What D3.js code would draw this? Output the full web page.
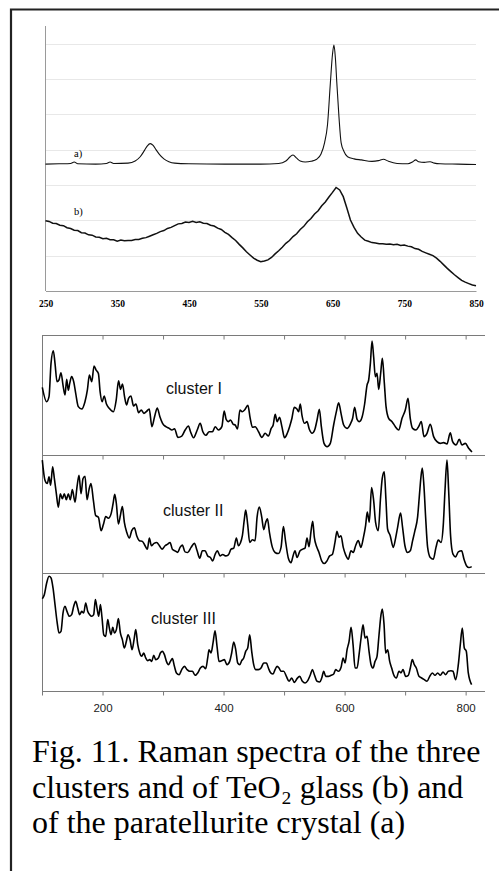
<!DOCTYPE html>
<html><head><meta charset="utf-8">
<script src="https://cdn.jsdelivr.net/npm/d3@7/dist/d3.min.js"></script>
<style>body{margin:0;background:#fff}svg{display:block}</style>
</head><body>
<script>
// ---------- top panel: paratellurite crystal (a) and TeO2 glass (b) ----------
const topTicks = [250, 350, 450, 550, 650, 750, 850];
const topGrid = [1, 2, 3, 4, 5, 6, 7];
const seriesA = [[250,3.59],[270,3.60],[285,3.61],[290,3.65],[295,3.60],[320,3.59],[335,3.61],[340,3.65],[345,3.61],[365,3.62],[375,3.68],[382,3.80],[388,3.98],[392,4.11],[396,4.17],[400,4.12],[404,4.00],[409,3.86],[415,3.74],[422,3.66],[430,3.62],[450,3.60],[500,3.59],[550,3.59],[575,3.61],[585,3.68],[591,3.80],[595,3.85],[600,3.76],[605,3.68],[612,3.65],[620,3.67],[628,3.73],[634,3.88],[639,4.20],[643,4.70],[647,5.88],[650,6.70],[652,6.96],[654,6.60],[656,5.90],[659,4.93],[662,4.20],[666,3.95],[671,3.80],[680,3.74],[690,3.71],[705,3.67],[714,3.69],[721,3.73],[728,3.67],[740,3.61],[755,3.60],[762,3.66],[766,3.71],[770,3.66],[778,3.64],[786,3.66],[792,3.62],[800,3.60],[825,3.59],[850,3.58]];
const seriesBx = [250,255,260,265,270,275,280,285,290,295,300,305,310,315,320,325,330,335,340,345,350,355,360,365,370,375,380,385,390,395,400,405,410,415,420,425,430,435,440,445,450,455,460,465,470,475,480,485,490,495,500,505,510,515,520,525,530,535,540,545,550,555,560,565,570,575,580,585,590,595,600,605,610,615,620,625,630,635,640,645,650,655,660,665,670,675,680,685,690,695,700,705,710,715,720,725,730,735,740,745,750,755,760,765,770,775,780,785,790,795,800,805,810,815,820,825,830,835,840,845,850];
const seriesBy = [1.99,1.97,1.92,1.91,1.86,1.85,1.79,1.77,1.72,1.71,1.65,1.64,1.59,1.58,1.53,1.52,1.48,1.49,1.45,1.45,1.41,1.44,1.42,1.43,1.43,1.46,1.46,1.49,1.51,1.55,1.59,1.63,1.68,1.71,1.77,1.80,1.85,1.90,1.91,1.95,1.94,1.97,1.94,1.96,1.92,1.91,1.86,1.84,1.78,1.74,1.66,1.60,1.51,1.43,1.32,1.22,1.11,1.02,0.93,0.87,0.83,0.85,0.88,0.95,1.05,1.14,1.24,1.35,1.43,1.54,1.62,1.74,1.83,1.96,2.05,2.18,2.27,2.41,2.52,2.66,2.79,2.93,2.86,2.67,2.35,2.01,1.80,1.63,1.53,1.44,1.41,1.37,1.36,1.34,1.34,1.32,1.33,1.31,1.32,1.29,1.30,1.27,1.25,1.20,1.18,1.12,1.08,1.04,1.00,0.93,0.84,0.74,0.64,0.55,0.46,0.38,0.30,0.25,0.21,0.17,0.15];
const topLabels = ["a)", "b)"];

// ---------- bottom panels: clusters ----------
const clusterNames = ["cluster I", "cluster II", "cluster III"];
const bottomTicks = [100, 200, 300, 400, 500, 600, 700, 800];
const cluster1 = [[100.5,56.4],[107.7,44.4],[111.6,48.6],[114.9,76.4],[118.7,86.9],[121.5,76.4],[124.8,61.1],[128,62.5],[131.4,68.6],[134.7,58.3],[138,50],[140.8,63],[143.5,54],[145.8,59.7],[149,65.3],[152.4,61],[155.7,51.4],[160,40.3],[165.6,38.3],[171,44.4],[175,54.2],[178.3,66.7],[182.2,61.1],[186,74.2],[189.4,70.8],[193.2,68],[196,52.8],[199.4,44.4],[202.7,49.2],[206.5,42.5],[211,38.9],[218,36.1],[222.6,45.8],[226.5,61.9],[229.8,54.7],[233,59.2],[236.4,48.6],[239.7,41.7],[243,47.2],[246.9,49.2],[251.3,40.8],[255.2,42.5],[259.6,35.3],[264,37.5],[268.4,34.7],[272.8,36.4],[277.2,38.3],[281.6,23.6],[286,31.9],[290.4,39.2],[294.8,31.9],[299.2,26.4],[304.7,23.6],[310.2,22.2],[314.6,20.8],[319,21.9],[324.5,14.7],[331,15.8],[336.5,20.8],[342,24.2],[345.4,19.4],[350.4,14.4],[356.5,20.8],[361.4,26.4],[365.8,19.4],[370.8,16.4],[376.2,19.4],[381.7,19.4],[386.2,23.6],[391.6,20.8],[397.2,23.6],[401,36.7],[404.3,29.7],[408.2,27.8],[411.5,29.2],[415.9,25.6],[419.2,25],[423.1,21.7],[427,37.5],[430.8,36.1],[434.7,37.5],[440.2,41.4],[444,30.6],[447.8,23.1],[452.3,23.6],[457.8,19.4],[463.3,14.7],[468.7,18.1],[474.2,15.8],[478.7,22.2],[482,25],[485.3,33.9],[488.6,27.8],[492.5,31.4],[496.4,23.6],[500.8,14.4],[505.3,18.1],[509.1,23.6],[513,30.6],[516.8,39.7],[521.2,38.3],[524,36.1],[526.8,42.5],[529.5,33.3],[534,26.4],[537.9,27.8],[541.7,21.4],[546.2,18.1],[550.5,20.8],[554.5,29.2],[558.3,38.1],[561.6,23.6],[566,9.7],[571,6.9],[576.4,9.7],[581.9,25],[586.4,36.1],[590.2,43.6],[594.1,34.7],[598.5,25],[604,22.2],[609.5,25.8],[613.3,30.6],[616.6,39.7],[620.6,29.7],[624.4,27.8],[628.8,31.4],[633.1,42.5],[637.1,58.3],[639.8,62.5],[642.6,76.4],[645.4,95],[648,81.9],[650.8,65.3],[653.6,68.1],[656.3,54.7],[659.6,68.1],[662.4,80.6],[665.7,59.7],[668.5,40.3],[672.8,30.6],[678.4,27.8],[683.9,23.6],[689.3,20.8],[694.9,30.6],[700.3,37.5],[704.8,47.2],[708.5,30.6],[712.4,22.2],[718,20.8],[722.3,23.6],[726.7,27.8],[731.2,15.3],[736.2,18.1],[741.6,25.6],[747.1,15.3],[752.7,11.1],[758.1,9.7],[763.6,10.3],[769.2,9.2],[774.6,18.6],[778.5,11.1],[784.1,8.3],[789.5,13.1],[794,8.3],[799.5,9.7],[805,5.6],[810.5,2.5]];
const cluster2 = [[100.5,95.7],[104.9,78.6],[108.8,75.8],[111.6,81.5],[114.3,74.4],[117.6,90],[120.4,80.1],[123.7,67.2],[127,55.8],[130.3,67.2],[133.6,63],[136.9,67.2],[140.2,62.1],[143.5,67.2],[146.8,62.1],[150.1,70.7],[154.6,60.1],[157.9,73.2],[161.2,82.9],[164.5,67.2],[167.8,80.1],[171.1,82],[174.4,62.1],[177.7,70.7],[181,75.8],[184.9,61.5],[188.7,48.7],[193.2,47.3],[197.6,35.9],[201.4,41],[205.3,47.9],[209.7,46.4],[214.1,50.1],[217.4,58.7],[220.2,66.7],[222.9,58.7],[226.2,41.6],[229.5,48.7],[232.8,56.4],[236.1,43],[240,34.5],[244.4,29.6],[248.3,35.9],[252.7,38.2],[256.5,31.6],[260.9,27.4],[265.9,26.8],[270.3,23.1],[274.1,20.2],[277.4,29.6],[280.7,23.1],[285.1,25.1],[289.5,25.9],[294,23.1],[298.4,20.2],[303.3,23.1],[307.7,24.5],[311.6,25.9],[315.4,20.2],[319.8,18.8],[324.2,17.4],[328.1,21.7],[331.9,23.6],[336.3,17.9],[340.8,17.4],[346.3,21.7],[351.8,25.1],[356.2,19.1],[360.6,12.5],[365,18.8],[369.4,18.8],[373.8,14.5],[378.3,13.1],[382.1,10.3],[386,15.7],[389.8,18.8],[394.2,14.5],[398.7,15.7],[403.1,14.5],[408,15.4],[412.4,20.2],[416.8,21.1],[421.2,29.6],[424.5,23.1],[427.8,25.4],[431.1,31.6],[434.4,45.9],[436.6,53.3],[439.9,41],[443.2,25.9],[447.6,28.2],[452.1,27.4],[455.4,47.3],[459.2,55.8],[463.1,47.3],[466.4,36.8],[469.7,43],[472.5,45.9],[475.8,34.5],[480.7,21.7],[485.1,17.4],[490.6,16.5],[495,21.7],[498.9,39.3],[502.7,25.9],[507.1,12.5],[511.5,8.8],[514.8,14.5],[518.1,18.8],[521.4,13.1],[526.4,18.8],[530.8,20.2],[534.6,21.1],[537.9,29.6],[541.2,22.2],[544.5,35.3],[547.3,43.9],[550,30.2],[553.9,22.2],[557.7,17.4],[562.1,10.3],[566.5,8],[570.9,10.3],[575.3,14.5],[579.7,15.7],[584.1,25.9],[587.4,35.3],[590.7,30.2],[594,31.6],[597.8,21.7],[601.7,15.4],[606.1,11.7],[610.5,18.8],[614.3,17.4],[618.2,23.1],[622.6,27.4],[627,21.7],[630.9,29.6],[634.7,40.2],[637.5,51.6],[640.8,43],[644.6,72.4],[648,61.5],[651.2,43],[655.6,35.9],[659.5,64.4],[662.2,80.1],[665.5,85.8],[668.3,62.5],[671,37.3],[675.4,31.6],[680.4,21.7],[684.3,29.6],[687.6,38.7],[692.5,50.7],[695.8,38.7],[699.7,23.1],[704.1,17.4],[708.5,18.8],[712.4,27.4],[716.2,35.9],[720.6,47.3],[723.4,64.4],[726.2,81.5],[728.4,88.9],[731.1,73.8],[733.9,47.3],[737.2,21.7],[741.6,13.1],[746.6,11.7],[751,21.7],[754.8,27.9],[759.3,25.9],[763.1,41],[765.9,70.1],[769.2,95.7],[771.9,70.1],[775.2,31.1],[779.1,16],[783.5,13.7],[787.9,17.9],[793.4,18.8],[797.3,11.7],[801.7,6],[805.5,4.6],[810,5.4]];
const cluster3 = [[100.5,78.2],[103.8,81.6],[107.7,91.5],[111.6,97.2],[114.9,95.8],[118.2,87.3],[121.5,73.2],[124.8,59],[128.1,49.2],[131.4,50.6],[134.7,66.1],[138,71.8],[141.3,67.5],[145.2,63.3],[149,64.7],[152.4,71.8],[155.7,76],[159,70.3],[162.3,64.7],[165.6,67.5],[168.9,66.1],[172.2,74.6],[175.5,67.5],[178.8,64.7],[182.1,63.3],[185.4,64.7],[188.2,77.4],[190.9,70.3],[193.7,63.3],[196.5,73.2],[199.2,61.9],[202,47.7],[205.3,46.3],[208.6,60.5],[211.3,53.4],[214.1,47.7],[216.9,54],[219.6,49.2],[222.9,52],[226.2,61.3],[229.5,49.2],[232.8,43.5],[236.1,36.4],[239.4,42.1],[242.2,47.7],[245.5,43.5],[248.8,35],[252.1,43.5],[254.9,52],[258.2,39.3],[261.5,32.2],[264.8,29.4],[268.1,32.2],[271.4,28],[274.7,25.7],[278,26.6],[281.3,25.1],[284.6,30.2],[287.9,26.6],[292.3,28],[295.6,32.2],[299,33.6],[302.3,30.8],[305.6,25.1],[308.9,22.3],[312.2,25.1],[315.5,27.4],[318.8,20.9],[322.1,15.3],[326.5,13.8],[330.9,18.1],[335.3,20.9],[339.7,18.1],[344.1,16.7],[348.5,16.7],[352.9,13.3],[357.3,15.3],[361.7,19.5],[366.1,20.9],[370.5,18.9],[373.8,28],[376,35],[379.3,32.2],[382.6,40.7],[385.9,51.1],[389.2,37.9],[392.5,25.1],[396.9,25.7],[401.3,26.6],[405.7,22.3],[410.1,25.1],[413.4,32.2],[416.8,41.5],[420.1,35],[423.4,23.7],[426.7,22.3],[430,25.7],[433.3,28],[436.6,33.6],[439.9,36.4],[443.2,47.7],[446.5,33.6],[449.8,22.3],[453.1,18.1],[457.5,18.1],[461.9,19.5],[466.4,23.7],[470.8,23.7],[474.1,19.5],[477.9,15.3],[481.8,14.4],[485.1,18.1],[488.4,20.9],[491.7,19.5],[495,16.7],[499.4,16.7],[503.8,12.4],[508.2,8.2],[512.6,11],[517,7.3],[521.4,10.5],[525.8,12.4],[530.3,8.2],[534.7,6.8],[539.1,8.8],[543.5,13.8],[546.8,18.1],[550.1,13.8],[554.5,8.2],[558.9,7.6],[562.2,11],[565.5,16.7],[568.8,12.4],[573.2,12.4],[577.6,13.3],[582,14.4],[585.3,18.1],[589.8,16.7],[594.2,20.1],[597.5,28],[600.8,23.7],[604.1,35],[607.4,42.1],[610.7,54],[614,39.3],[617.3,19.5],[620.6,19.5],[623.9,30.8],[627.2,44.9],[630.5,56.2],[633.8,44.9],[637.1,46.3],[640.4,33.6],[643.7,22.3],[647,19.5],[650.3,25.1],[653.6,29.4],[656.9,47.7],[660.2,64.7],[662.4,69.5],[665.2,56.2],[667.9,32.2],[671.2,35],[674.5,25.1],[677.8,19.5],[681.1,13.8],[685.5,11],[689.9,16.7],[693.2,15.3],[696.5,18.1],[700.9,12.4],[705.3,13.3],[708.6,19.5],[711.9,26.6],[715.2,22.3],[718.5,19.5],[722.9,12.4],[727.3,11],[731.7,9.6],[736.2,8.2],[740.6,12.4],[745,15.3],[749.4,13.3],[753.8,15.3],[758.2,13.3],[762.6,16.1],[767,13.8],[771.4,16.7],[775.8,17.2],[779.1,16.7],[783.5,9.6],[787.9,22.3],[791.2,39.3],[794.5,53.4],[797.8,36.4],[801.1,33.6],[804.4,15.3],[809.9,5.4]];
const clusters = [cluster1, cluster2, cluster3];

const captionLines = ["Fig. 11. Raman spectra of the three", "clusters and of TeO\u2082 glass (b) and", "of the paratellurite crystal (a)"];

const W = 499, H = 871;
const svg = d3.select("body").append("svg").attr("width", W).attr("height", H);
svg.append("rect").attr("width", W).attr("height", H).attr("fill", "#fff");

// outer frame (cut at right/bottom)
svg.append("path").attr("d", `M11,871 L11,9.5 L499,9.5`).attr("fill", "none")
  .attr("stroke", "#222").attr("stroke-width", 2.2);

// ---- top panel ----
const xT = d3.scaleLinear().domain([250, 850]).range([45.5, 476]);
const yT = d3.scaleLinear().domain([0, 7.5]).range([291, 26]);
const gT = svg.append("g");
gT.selectAll("line.grid").data(topGrid).join("line").attr("class", "grid")
  .attr("x1", xT(250)).attr("x2", xT(850))
  .attr("y1", d => Math.round(yT(d)) + 0.5).attr("y2", d => Math.round(yT(d)) + 0.5)
  .attr("stroke", "#e8e8e8").attr("stroke-width", 1);
gT.append("line").attr("x1", xT(250)).attr("x2", xT(250)).attr("y1", yT(7.5)).attr("y2", yT(0))
  .attr("stroke", "#9a9a9a");
const axT = gT.append("g").attr("transform", `translate(0,${yT(0)})`)
  .call(d3.axisBottom(xT).tickValues(topTicks).tickSize(0).tickPadding(9).tickFormat(d3.format("d")));
axT.select(".domain").attr("stroke", "#9a9a9a");
axT.selectAll("text").attr("font-family", "'Liberation Serif','Times New Roman',serif")
  .attr("font-weight", "bold").attr("font-size", 9.5).attr("fill", "#000");

const lineT = d3.line().x(d => xT(d[0])).y(d => yT(d[1]));
gT.append("path").datum(seriesA).attr("d", lineT.curve(d3.curveMonotoneX))
  .attr("fill", "none").attr("stroke", "#111").attr("stroke-width", 1.1);
const seriesB = seriesBx.map((x, i) => [x, seriesBy[i]]);
gT.append("path").datum(seriesB).attr("d", d3.line().x(d => xT(d[0])).y(d => yT(d[1]))(seriesB))
  .attr("fill", "none").attr("stroke", "#111").attr("stroke-width", 1.5);
gT.selectAll("text.lab").data(topLabels).join("text").attr("class", "lab")
  .attr("x", 74).attr("y", (d, i) => i === 0 ? 157 : 215)
  .attr("font-family", "'Liberation Serif','Times New Roman',serif").attr("font-size", 10.5)
  .text(d => d);

// ---- bottom panels ----
const xB = d3.scaleLinear().domain([100, 832]).range([42, 485]);
const edges = [335, 455, 573, 691];
const gB = svg.append("g");
edges.forEach((y, i) => {
  const last = i === edges.length - 1;
  const ax = gB.append("g").attr("transform", `translate(0,${y + 0.5})`)
    .call(d3.axisBottom(xB).tickValues(bottomTicks).tickSize(4).tickPadding(8)
      .tickFormat(d => (last && d % 200 === 0) ? d : ""));
  ax.select(".domain").attr("stroke", "#7a7a7a").attr("d", `M${xB.range()[0]},0H${xB.range()[1]}`);
  ax.selectAll(".tick line").attr("stroke", "#7a7a7a");
  ax.selectAll("text").attr("font-family", "'Liberation Sans',Arial,sans-serif")
    .attr("font-size", 11.5).attr("fill", "#222");
});
gB.append("line").attr("x1", xB(100) + 0.5).attr("x2", xB(100) + 0.5)
  .attr("y1", edges[0]).attr("y2", edges[3]).attr("stroke", "#7a7a7a");

const labelPos = [[166, 394], [163, 516], [151, 624]];
clusters.forEach((data, i) => {
  const yB = d3.scaleLinear().domain([0, 100]).range([edges[i + 1], edges[i]]);
  gB.append("path").datum(data)
    .attr("d", d3.line().x(d => xB(d[0])).y(d => yB(d[1])).curve(d3.curveMonotoneX))
    .attr("fill", "none").attr("stroke", "#000").attr("stroke-width", 1.6);
  gB.append("text").attr("x", labelPos[i][0]).attr("y", labelPos[i][1])
    .attr("font-family", "'Liberation Sans',Arial,sans-serif").attr("font-size", 16)
    .attr("fill", "#111").text(clusterNames[i]);
});

// ---- caption ----
const cap = svg.append("g").attr("font-family", "'Liberation Serif','Times New Roman',serif")
  .attr("font-size", 32).attr("fill", "#000");
cap.selectAll("text").data(captionLines).join("text")
  .attr("x", 32).attr("y", (d, i) => [762, 797.5, 833][i]).text(d => d);
</script>
</body></html>
